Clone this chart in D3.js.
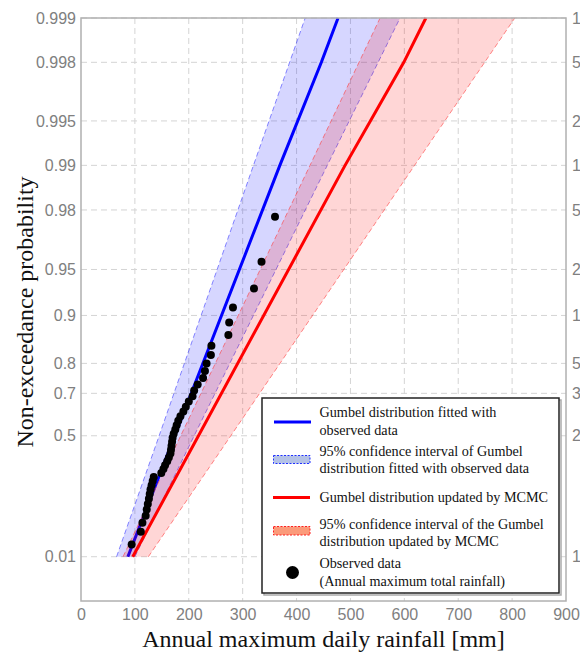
<!DOCTYPE html>
<html>
<head>
<meta charset="utf-8">
<script src="https://cdn.jsdelivr.net/npm/d3@7"></script>
<style>
  body { margin: 0; background: #fff; }
  .tick text { font-family: "Liberation Sans", Arial, sans-serif; font-size: 16px; fill: #808080; }
  .legendText { font-family: "Liberation Serif", "Times New Roman", serif; font-size: 14.2px; fill: #111; }
  .axisTitle { font-family: "Liberation Serif", "Times New Roman", serif; font-size: 24px; fill: #111; }
</style>
</head>
<body>
<script>
(function(){

//tick values and labels
var probTicks = [0.01, 0.5, 0.7, 0.8, 0.9, 0.95, 0.98, 0.99, 0.995, 0.998, 0.999];
var probLabels = ["0.01", "0.5", "0.7", "0.8", "0.9", "0.95", "0.98", "0.99", "0.995", "0.998", "0.999"];
//right axis labels, as far as they show inside the picture
var returnLabels = ["1", "2", "3", "5", "1", "2", "5", "1", "2", "5", "1"];
var xTicks = [0, 100, 200, 300, 400, 500, 600, 700, 800, 900];

//observed annual maxima [mm], sorted ascending (Weibull plotting positions)
var observed = [94, 111, 114, 120, 122, 124, 126, 127.5, 129, 131,
                133, 135, 149, 153, 156, 160, 163, 166, 167, 168,
                169, 170, 172, 175, 177.5, 180.5, 184.5, 190, 194.5, 200,
                207, 210, 216.5, 226.5, 230, 233, 241, 242, 273.5, 275,
                282, 321, 335, 360];

//Gumbel fitted with observed data
var fitProb = [0.01, 0.5, 0.99, 0.998, 0.999];
var fitMm = [87, 174, 369, 446, 477];

//Gumbel updated by MCMC
var mcmcProb = [0.01, 0.5, 0.99, 0.995, 0.998, 0.999];
var mcmcMm = [96, 218, 490, 537, 599, 640];

//95% confidence bands
var bandProb = [0.01, 0.5, 0.99, 0.999];
var fitLower = [66, 145, 320, 416];
var fitUpper = [100, 210, 457, 592];
var mcmcLower = [78, 185, 425, 555];
var mcmcUpper = [125, 278, 619, 805];

var width = 580,
    height = 654;

var plotLeft = 81, plotRight = 566, plotTop = 18, plotBottom = 601;

//reduced Gumbel variate
function gumbel(p){
  return -Math.log(-Math.log(p));
};

var svg = d3.select("body")
  .append("svg")
  .attr("width", width)
  .attr("height", height);

var x = d3.scaleLinear()
  .domain([0, 900])
  .range([plotLeft, plotRight]);

var y = d3.scaleLinear()
  .domain([gumbel(0.0001), gumbel(0.999)])
  .range([plotBottom, plotTop]);

function yp(p){
  return y(gumbel(p));
};

//grid lines
svg.selectAll(".vgrid")
  .data(xTicks.slice(1, -1))
  .enter()
  .append("line")
  .attr("class", "vgrid")
  .attr("x1", function(d){ return x(d); })
  .attr("x2", function(d){ return x(d); })
  .attr("y1", plotTop)
  .attr("y2", plotBottom)
  .attr("stroke", "#d4d4d4")
  .attr("stroke-dasharray", "6,4");

svg.selectAll(".hgrid")
  .data(probTicks)
  .enter()
  .append("line")
  .attr("class", "hgrid")
  .attr("x1", plotLeft)
  .attr("x2", plotRight)
  .attr("y1", function(d){ return yp(d); })
  .attr("y2", function(d){ return yp(d); })
  .attr("stroke", "#d4d4d4")
  .attr("stroke-dasharray", "6,4");

//band builder
function makeBand(lower, upper){
  var pts = bandProb.map(function(p, i){
    return {p: p, lo: lower[i], hi: upper[i]};
  });
  return d3.area()
    .y(function(d){ return yp(d.p); })
    .x0(function(d){ return x(d.lo); })
    .x1(function(d){ return x(d.hi); })(pts);
};

function edgeLine(vals){
  return d3.line()
    .x(function(d){ return x(d); })
    .y(function(d, i){ return yp(bandProb[i]); })(vals);
};

var line = d3.line()
  .x(function(d){ return x(d[1]); })
  .y(function(d){ return yp(d[0]); });

//blue band and line
svg.append("path")
  .attr("d", makeBand(fitLower, fitUpper))
  .attr("fill", "rgba(0,0,255,0.16)");

[fitLower, fitUpper].forEach(function(vals){
  svg.append("path")
    .attr("d", edgeLine(vals))
    .attr("fill", "none")
    .attr("stroke", "rgba(60,60,255,0.6)")
    .attr("stroke-width", 1)
    .attr("stroke-dasharray", "5,3");
});

svg.append("path")
  .attr("d", line(d3.zip(fitProb, fitMm)))
  .attr("fill", "none")
  .attr("stroke", "#0000ff")
  .attr("stroke-width", 3);

//red band and line
svg.append("path")
  .attr("d", makeBand(mcmcLower, mcmcUpper))
  .attr("fill", "rgba(255,0,0,0.16)");

[mcmcLower, mcmcUpper].forEach(function(vals){
  svg.append("path")
    .attr("d", edgeLine(vals))
    .attr("fill", "none")
    .attr("stroke", "rgba(255,60,60,0.6)")
    .attr("stroke-width", 1)
    .attr("stroke-dasharray", "5,3");
});

svg.append("path")
  .attr("d", line(d3.zip(mcmcProb, mcmcMm)))
  .attr("fill", "none")
  .attr("stroke", "#ff0000")
  .attr("stroke-width", 3);

//observed points
var n = observed.length;
svg.selectAll(".obs")
  .data(observed)
  .enter()
  .append("circle")
  .attr("class", "obs")
  .attr("cx", function(d){ return x(d); })
  .attr("cy", function(d, i){ return yp((i + 1) / (n + 1)); })
  .attr("r", 4)
  .attr("fill", "#000");

//frame
svg.append("rect")
  .attr("x", plotLeft)
  .attr("y", plotTop)
  .attr("width", plotRight - plotLeft)
  .attr("height", plotBottom - plotTop)
  .attr("fill", "none")
  .attr("stroke", "#b0b0b0")
  .attr("stroke-width", 1.5);

//axes
var gTicks = probTicks.map(gumbel);

svg.append("g")
  .attr("transform", "translate(" + plotLeft + ",0)")
  .call(d3.axisLeft(y).tickValues(gTicks).tickSize(0).tickPadding(5)
    .tickFormat(function(d, i){ return probLabels[i]; }));

svg.append("g")
  .attr("transform", "translate(" + plotRight + ",0)")
  .call(d3.axisRight(y).tickValues(gTicks).tickSize(0).tickPadding(6)
    .tickFormat(function(d, i){ return returnLabels[i]; }));

svg.append("g")
  .attr("transform", "translate(0," + plotBottom + ")")
  .call(d3.axisBottom(x).tickValues(xTicks).tickSize(0).tickPadding(8)
    .tickFormat(d3.format("d")));

svg.selectAll(".domain").remove();

//axis titles
svg.append("text")
  .attr("class", "axisTitle")
  .attr("x", (plotLeft + plotRight) / 2)
  .attr("y", 647)
  .attr("text-anchor", "middle")
  .text("Annual maximum daily rainfall [mm]");

svg.append("text")
  .attr("class", "axisTitle")
  .attr("transform", "translate(33,312) rotate(-90)")
  .attr("text-anchor", "middle")
  .text("Non-exceedance probability");

//legend
var legend = svg.append("g");

legend.append("rect")
  .attr("x", 264).attr("y", 400)
  .attr("width", 297).attr("height", 195)
  .attr("fill", "none")
  .attr("stroke", "#aaa")
  .attr("stroke-width", 1.5);

legend.append("rect")
  .attr("x", 262).attr("y", 398)
  .attr("width", 297).attr("height", 195)
  .attr("fill", "#fff")
  .attr("stroke", "#222")
  .attr("stroke-width", 1.5);

legend.append("line")
  .attr("x1", 274).attr("x2", 311).attr("y1", 422).attr("y2", 422)
  .attr("stroke", "#0000ff").attr("stroke-width", 3);

legend.append("rect")
  .attr("x", 273.5).attr("y", 455.5).attr("width", 36.5).attr("height", 8)
  .attr("fill", "#b4c2e6")
  .attr("stroke", "#2030ff").attr("stroke-width", 1).attr("stroke-dasharray", "2,1.5");

legend.append("line")
  .attr("x1", 273).attr("x2", 310).attr("y1", 497.5).attr("y2", 497.5)
  .attr("stroke", "#ff0000").attr("stroke-width", 3);

legend.append("rect")
  .attr("x", 273.5).attr("y", 526.5).attr("width", 36.5).attr("height", 8.5)
  .attr("fill", "#fb9a7a")
  .attr("stroke", "#ff2020").attr("stroke-width", 1).attr("stroke-dasharray", "2,1.5");

legend.append("circle")
  .attr("cx", 292.5).attr("cy", 572.5).attr("r", 6.5)
  .attr("fill", "#000");

var legendLines = [
  ["Gumbel distribution fitted with", 417],
  ["observed data", 434.5],
  ["95% confidence interval of Gumbel", 455.5],
  ["distribution fitted with observed data", 472.5],
  ["Gumbel distribution updated by MCMC", 502],
  ["95% confidence interval of the Gumbel", 528.5],
  ["distribution updated by MCMC", 545.5],
  ["Observed data", 568],
  ["(Annual maximum total rainfall)", 586]
];

legend.selectAll(".legendText")
  .data(legendLines)
  .enter()
  .append("text")
  .attr("class", "legendText")
  .attr("x", 319.5)
  .attr("y", function(d){ return d[1]; })
  .text(function(d){ return d[0]; });

})();
</script>
</body>
</html>
